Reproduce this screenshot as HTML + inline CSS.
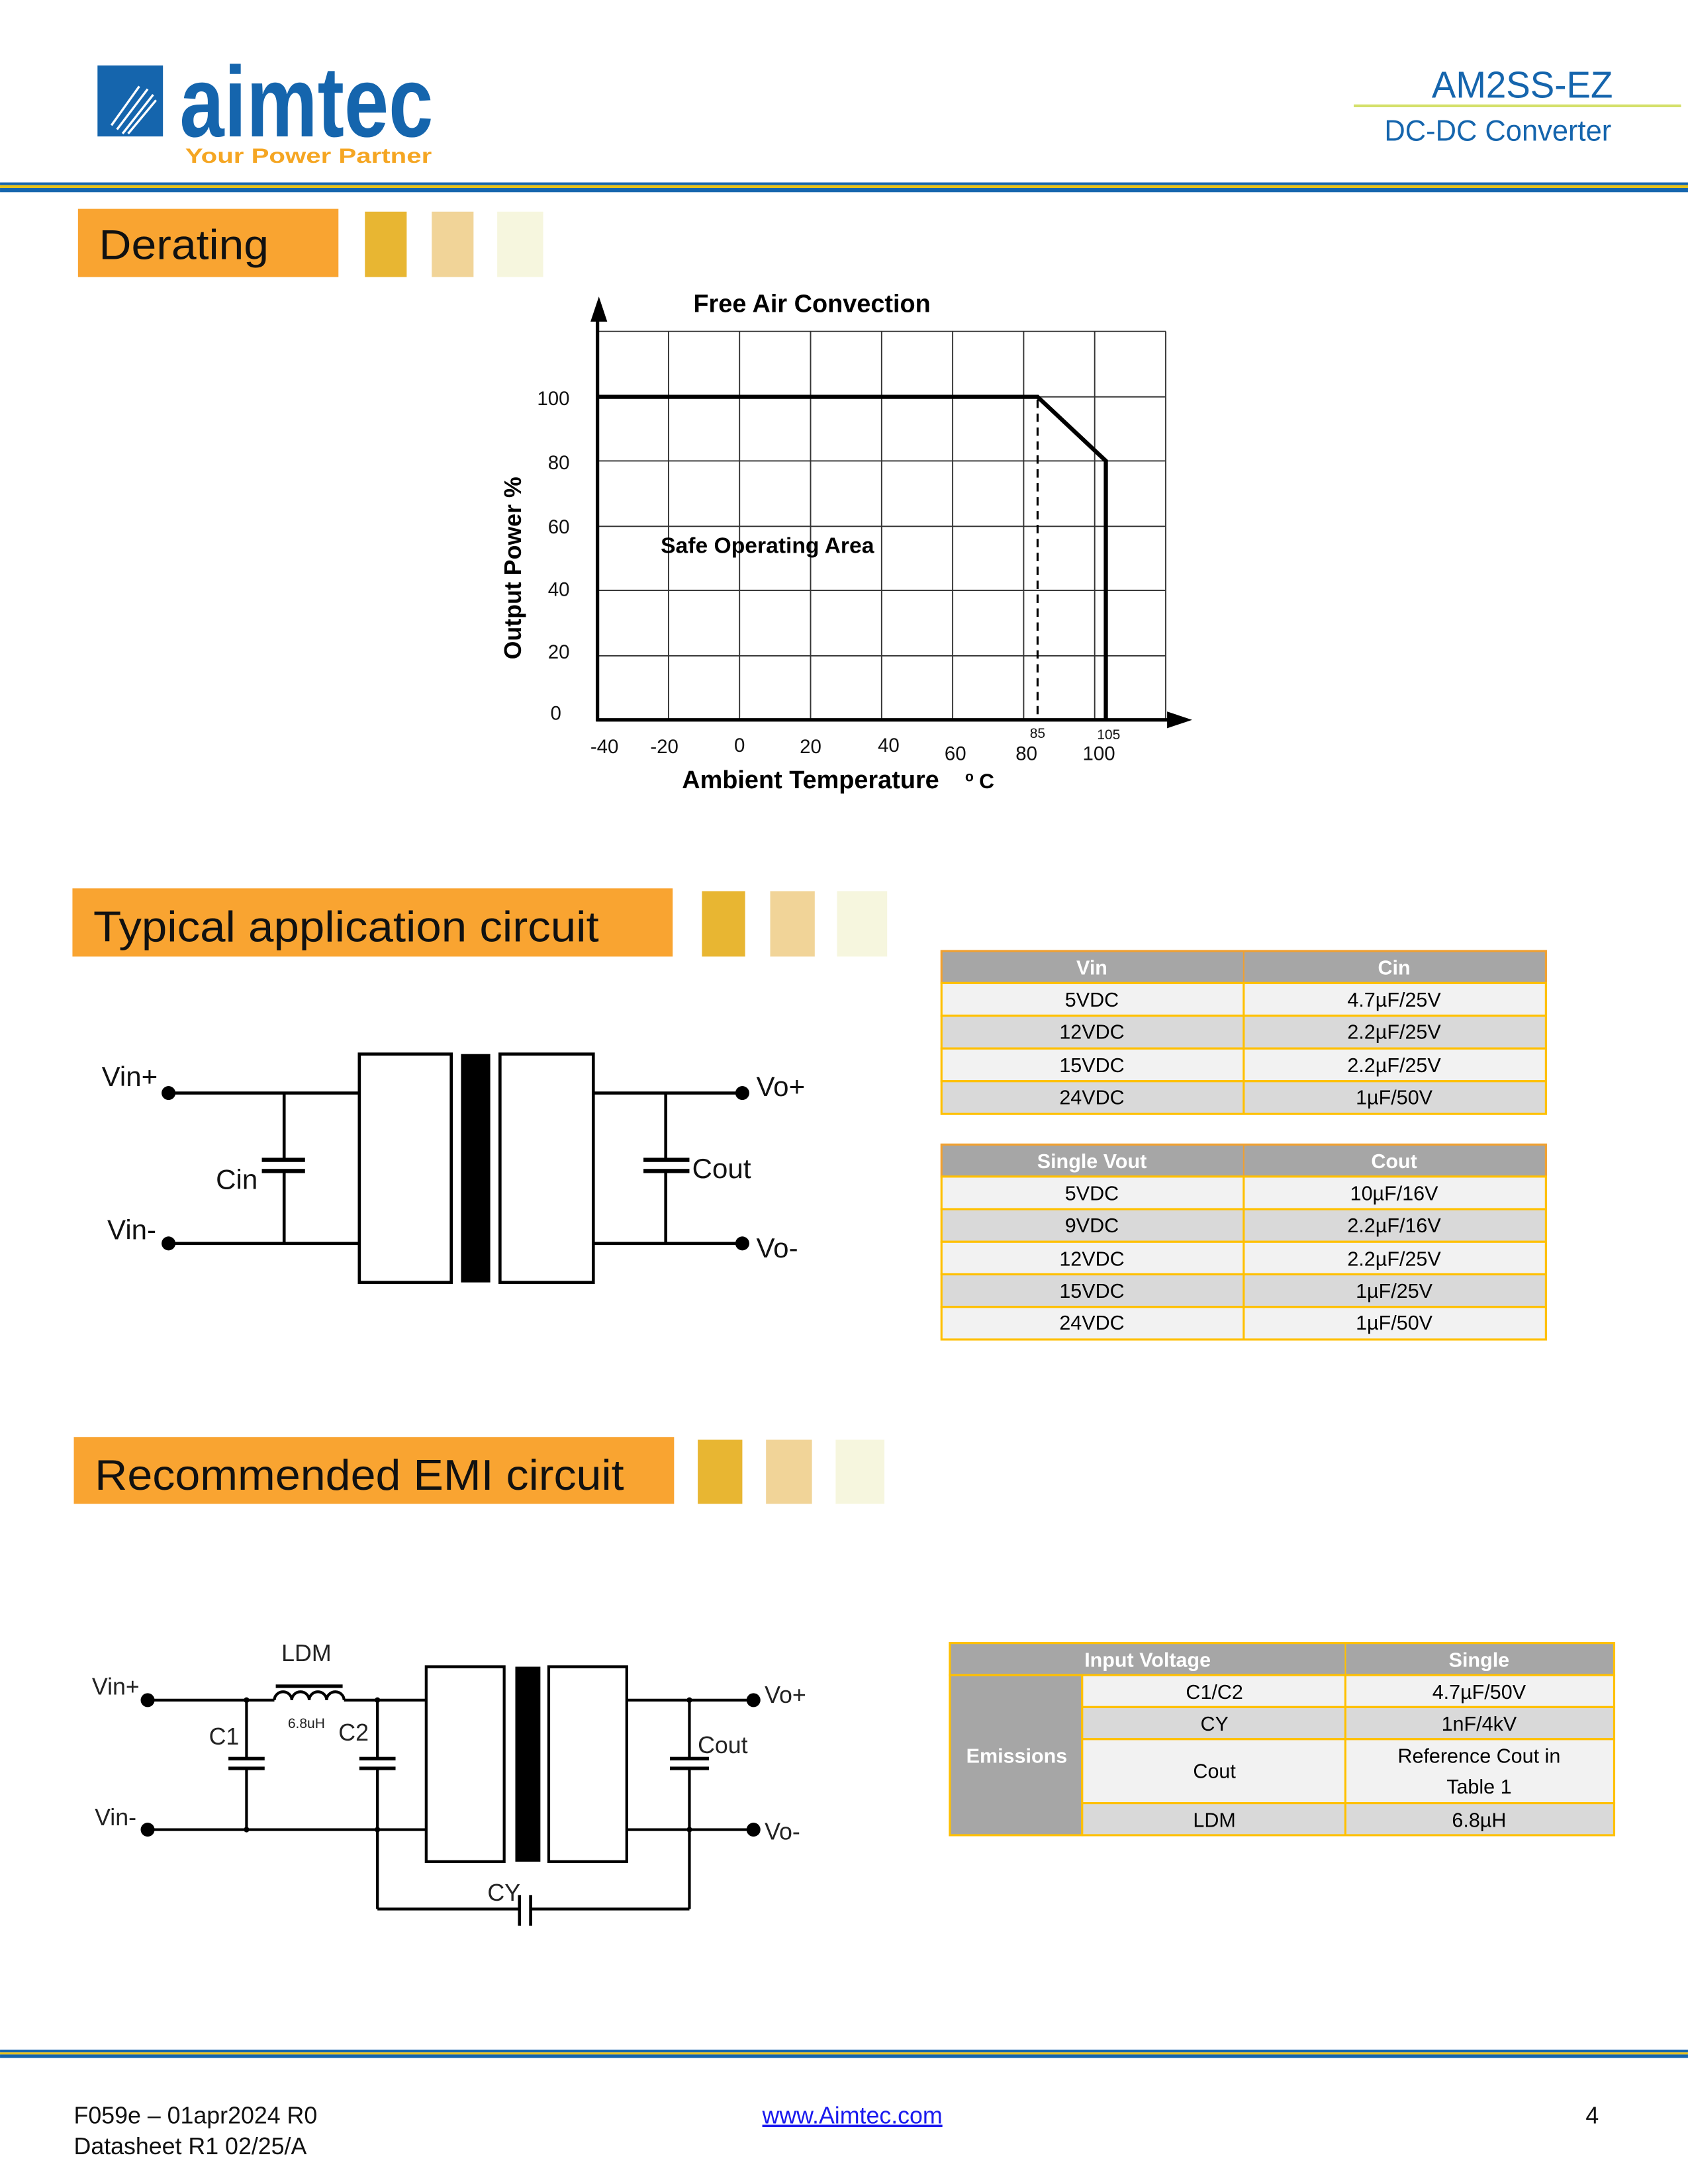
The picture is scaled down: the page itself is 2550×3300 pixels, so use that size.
<!DOCTYPE html>
<html><head><meta charset="utf-8"><style>
html,body{margin:0;padding:0;background:#fff}
svg{display:block}
text{font-family:"Liberation Sans",sans-serif}
</style></head><body>
<svg width="2550" height="3300" viewBox="0 0 1212 1568.5" xmlns="http://www.w3.org/2000/svg">
<rect width="1212" height="1568.5" fill="#fff"/>
<rect x="70" y="47" width="47" height="51" fill="#1565ad"/>
<g stroke="#fff" stroke-width="1.6">
<line x1="80" y1="90" x2="100" y2="62"/><line x1="84" y1="93" x2="106" y2="64"/><line x1="88" y1="96" x2="110" y2="68"/><line x1="92" y1="96" x2="112" y2="72"/>
</g>
<text x="129" y="98" font-size="72" font-weight="bold" fill="#1565ad" textLength="182" lengthAdjust="spacingAndGlyphs">aimtec</text>
<text x="133" y="117" font-size="15" font-weight="bold" fill="#f5a623" textLength="177" lengthAdjust="spacingAndGlyphs">Your Power Partner</text>
<text x="1158" y="70" font-size="27" fill="#1565ad" text-anchor="end" textLength="130" lengthAdjust="spacingAndGlyphs">AM2SS-EZ</text>
<rect x="972" y="75" width="235" height="2" fill="#d4e06a"/>
<text x="1157" y="101" font-size="21" fill="#1565ad" text-anchor="end" textLength="163" lengthAdjust="spacingAndGlyphs">DC-DC Converter</text>
<rect x="0" y="131" width="1212" height="2" fill="#1565ad"/>
<rect x="0" y="133" width="1212" height="2" fill="#e8c21a"/>
<rect x="0" y="135" width="1212" height="3" fill="#1565ad"/>
<g>
<rect x="56" y="150" width="187" height="49" fill="#f9a431"/>
<text x="71" y="186" font-size="30" fill="#111" textLength="122" lengthAdjust="spacingAndGlyphs">Derating</text>
<rect x="262" y="152" width="30" height="47" fill="#e8b632"/>
<rect x="310" y="152" width="30" height="47" fill="#f1d498"/>
<rect x="357" y="152" width="33" height="47" fill="#f6f6de"/>
<rect x="52" y="638" width="431" height="49" fill="#f9a431"/>
<text x="67" y="676" font-size="31" fill="#111" textLength="363" lengthAdjust="spacingAndGlyphs">Typical application circuit</text>
<rect x="504" y="640" width="31" height="47" fill="#e8b632"/>
<rect x="553" y="640" width="32" height="47" fill="#f1d498"/>
<rect x="601" y="640" width="36" height="47" fill="#f6f6de"/>
<rect x="53" y="1032" width="431" height="48" fill="#f9a431"/>
<text x="68" y="1070" font-size="31" fill="#111" textLength="380" lengthAdjust="spacingAndGlyphs">Recommended EMI circuit</text>
<rect x="501" y="1034" width="32" height="46" fill="#e8b632"/>
<rect x="550" y="1034" width="33" height="46" fill="#f1d498"/>
<rect x="600" y="1034" width="35" height="46" fill="#f6f6de"/>
</g>
<g stroke="#333" stroke-width="0.9" fill="none">
<line x1="429" y1="238" x2="837" y2="238"/><line x1="429" y1="285" x2="837" y2="285"/><line x1="429" y1="331" x2="837" y2="331"/><line x1="429" y1="378" x2="837" y2="378"/><line x1="429" y1="424" x2="837" y2="424"/><line x1="429" y1="471" x2="837" y2="471"/>
<line x1="480" y1="238" x2="480" y2="517"/><line x1="531" y1="238" x2="531" y2="517"/><line x1="582" y1="238" x2="582" y2="517"/><line x1="633" y1="238" x2="633" y2="517"/><line x1="684" y1="238" x2="684" y2="517"/><line x1="735" y1="238" x2="735" y2="517"/><line x1="786" y1="238" x2="786" y2="517"/><line x1="837" y1="238" x2="837" y2="517"/>
</g>
<g stroke="#000" fill="none">
<line x1="429" y1="225" x2="429" y2="518" stroke-width="2.5"/>
<line x1="428" y1="517" x2="842" y2="517" stroke-width="2.5"/>
<polyline points="429,285 745,285 794,331 794,517" stroke-width="3"/>
<line x1="745" y1="287" x2="745" y2="517" stroke-width="1.5" stroke-dasharray="6,4"/>
</g>
<polygon points="430,213 424,231 436,231" fill="#000"/>
<polygon points="856,517 838,511 838,523" fill="#000"/>
<g font-size="14" fill="#111" text-anchor="end">
<text x="409" y="291">100</text><text x="409" y="337">80</text><text x="409" y="383">60</text><text x="409" y="428">40</text><text x="409" y="473">20</text><text x="403" y="517">0</text>
</g>
<g font-size="14" fill="#111" text-anchor="middle">
<text x="434" y="541">-40</text><text x="477" y="541">-20</text><text x="531" y="540">0</text><text x="582" y="541">20</text><text x="638" y="540">40</text><text x="686" y="546">60</text><text x="737" y="546">80</text><text x="789" y="546">100</text>
<text x="745" y="530" font-size="10">85</text><text x="796" y="531" font-size="10">105</text>
</g>
<text x="583" y="224" font-size="18" font-weight="bold" text-anchor="middle">Free Air Convection</text>
<text x="551" y="397" font-size="16" font-weight="bold" text-anchor="middle">Safe Operating Area</text>
<text transform="translate(374,408) rotate(-90)" font-size="17" font-weight="bold" text-anchor="middle">Output Power %</text>
<text x="582" y="566" font-size="18" font-weight="bold" text-anchor="middle">Ambient Temperature</text>
<text x="693" y="561" font-size="10" font-weight="bold">o</text><text x="703" y="566" font-size="15" font-weight="bold">C</text>
<g stroke="#000" stroke-width="2.2" fill="none">
<line x1="121" y1="785" x2="258" y2="785"/><line x1="121" y1="893" x2="258" y2="893"/>
<line x1="204" y1="785" x2="204" y2="833"/><line x1="204" y1="841" x2="204" y2="893"/>
<line x1="188" y1="833" x2="219" y2="833" stroke-width="3"/><line x1="188" y1="841" x2="219" y2="841" stroke-width="3"/>
<rect x="258" y="757" width="66" height="164"/><rect x="359" y="757" width="67" height="164"/>
<line x1="426" y1="785" x2="533" y2="785"/><line x1="426" y1="893" x2="533" y2="893"/>
<line x1="478" y1="785" x2="478" y2="833"/><line x1="478" y1="841" x2="478" y2="893"/>
<line x1="462" y1="833" x2="495" y2="833" stroke-width="3"/><line x1="462" y1="841" x2="495" y2="841" stroke-width="3"/>
</g>
<rect x="331" y="757" width="21" height="164" fill="#000"/>
<g fill="#000"><circle cx="121" cy="785" r="5"/><circle cx="121" cy="893" r="5"/><circle cx="533" cy="785" r="5"/><circle cx="533" cy="893" r="5"/></g>
<g font-size="20" fill="#111">
<text x="73" y="780">Vin+</text><text x="155" y="854">Cin</text><text x="77" y="890">Vin-</text><text x="543" y="787">Vo+</text><text x="497" y="846">Cout</text><text x="543" y="903">Vo-</text>
</g>
<g font-size="14.5" text-anchor="middle">
<rect x="676" y="683" width="434" height="23" fill="#a6a6a6" stroke="#f0a030" stroke-width="1.5"/>
<line x1="893" y1="683" x2="893" y2="706" stroke="#f0a030"/>
<text x="784" y="700" fill="#fff" font-weight="bold">Vin</text><text x="1001" y="700" fill="#fff" font-weight="bold">Cin</text>
<g stroke="#ffc000" stroke-width="1.5">
<rect x="676" y="706" width="434" height="23.5" fill="#f2f2f2"/><rect x="676" y="729.5" width="434" height="23.5" fill="#d9d9d9"/><rect x="676" y="753" width="434" height="23.5" fill="#f2f2f2"/><rect x="676" y="776.5" width="434" height="23.5" fill="#d9d9d9"/>
<line x1="893" y1="706" x2="893" y2="800"/>
</g>
<text x="784" y="723">5VDC</text><text x="1001" y="723">4.7µF/25V</text>
<text x="784" y="746">12VDC</text><text x="1001" y="746">2.2µF/25V</text>
<text x="784" y="770">15VDC</text><text x="1001" y="770">2.2µF/25V</text>
<text x="784" y="793">24VDC</text><text x="1001" y="793">1µF/50V</text>
<rect x="676" y="822" width="434" height="23" fill="#a6a6a6" stroke="#f0a030" stroke-width="1.5"/>
<line x1="893" y1="822" x2="893" y2="845" stroke="#f0a030"/>
<text x="784" y="839" fill="#fff" font-weight="bold">Single Vout</text><text x="1001" y="839" fill="#fff" font-weight="bold">Cout</text>
<g stroke="#ffc000" stroke-width="1.5">
<rect x="676" y="845" width="434" height="23.4" fill="#f2f2f2"/><rect x="676" y="868.4" width="434" height="23.4" fill="#d9d9d9"/><rect x="676" y="891.8" width="434" height="23.4" fill="#f2f2f2"/><rect x="676" y="915.2" width="434" height="23.4" fill="#d9d9d9"/><rect x="676" y="938.6" width="434" height="23.4" fill="#f2f2f2"/>
<line x1="893" y1="845" x2="893" y2="962"/>
</g>
<text x="784" y="862">5VDC</text><text x="1001" y="862">10µF/16V</text>
<text x="784" y="885">9VDC</text><text x="1001" y="885">2.2µF/16V</text>
<text x="784" y="909">12VDC</text><text x="1001" y="909">2.2µF/25V</text>
<text x="784" y="932">15VDC</text><text x="1001" y="932">1µF/25V</text>
<text x="784" y="955">24VDC</text><text x="1001" y="955">1µF/50V</text>
<rect x="682" y="1180" width="477" height="23" fill="#a6a6a6" stroke="#ffc000" stroke-width="1.5"/>
<line x1="966" y1="1180" x2="966" y2="1203" stroke="#ffc000"/>
<text x="824" y="1197" fill="#fff" font-weight="bold">Input Voltage</text><text x="1062" y="1197" fill="#fff" font-weight="bold">Single</text>
<rect x="682" y="1203" width="95" height="115" fill="#a6a6a6" stroke="#ffc000" stroke-width="1.5"/>
<text x="730" y="1266" fill="#fff" font-weight="bold">Emissions</text>
<g stroke="#ffc000" stroke-width="1.5">
<rect x="777" y="1203" width="382" height="23" fill="#f2f2f2"/><rect x="777" y="1226" width="382" height="23" fill="#d9d9d9"/><rect x="777" y="1249" width="382" height="46" fill="#f2f2f2"/><rect x="777" y="1295" width="382" height="23" fill="#d9d9d9"/>
<line x1="966" y1="1203" x2="966" y2="1318"/>
</g>
<text x="872" y="1220">C1/C2</text><text x="1062" y="1220">4.7µF/50V</text>
<text x="872" y="1243">CY</text><text x="1062" y="1243">1nF/4kV</text>
<text x="872" y="1277">Cout</text><text x="1062" y="1266">Reference Cout in</text><text x="1062" y="1288">Table 1</text>
<text x="872" y="1312">LDM</text><text x="1062" y="1312">6.8µH</text>
</g>
<g stroke="#000" stroke-width="2" fill="none">
<line x1="106" y1="1221" x2="197" y2="1221"/><line x1="247" y1="1221" x2="306" y2="1221"/>
<path d="M197,1221 a6.25,6 0 0 1 12.5,0 a6.25,6 0 0 1 12.5,0 a6.25,6 0 0 1 12.5,0 a6.25,6 0 0 1 12.5,0"/>
<line x1="198" y1="1211" x2="246" y2="1211" stroke-width="2.5"/>
<line x1="106" y1="1314" x2="306" y2="1314"/>
<line x1="177" y1="1221" x2="177" y2="1263"/><line x1="177" y1="1270" x2="177" y2="1314"/>
<line x1="164" y1="1263" x2="190" y2="1263" stroke-width="2.5"/><line x1="164" y1="1270" x2="190" y2="1270" stroke-width="2.5"/>
<line x1="271" y1="1221" x2="271" y2="1263"/><line x1="271" y1="1270" x2="271" y2="1371"/>
<line x1="258" y1="1263" x2="284" y2="1263" stroke-width="2.5"/><line x1="258" y1="1270" x2="284" y2="1270" stroke-width="2.5"/>
<rect x="306" y="1197" width="56" height="140"/><rect x="394" y="1197" width="56" height="140"/>
<line x1="450" y1="1221" x2="541" y2="1221"/><line x1="450" y1="1314" x2="541" y2="1314"/>
<line x1="495" y1="1221" x2="495" y2="1263"/><line x1="495" y1="1270" x2="495" y2="1371"/>
<line x1="481" y1="1263" x2="509" y2="1263" stroke-width="2.5"/><line x1="481" y1="1270" x2="509" y2="1270" stroke-width="2.5"/>
<line x1="271" y1="1371" x2="373" y2="1371"/><line x1="381" y1="1371" x2="495" y2="1371"/>
<line x1="373" y1="1361" x2="373" y2="1383" stroke-width="2.2"/><line x1="381" y1="1361" x2="381" y2="1383" stroke-width="2.2"/>
</g>
<rect x="370" y="1197" width="18" height="140" fill="#000"/>
<g fill="#000"><circle cx="106" cy="1221" r="5"/><circle cx="106" cy="1314" r="5"/><circle cx="541" cy="1221" r="5"/><circle cx="541" cy="1314" r="5"/>
<circle cx="177" cy="1221" r="2"/><circle cx="271" cy="1221" r="2"/><circle cx="177" cy="1314" r="2"/><circle cx="271" cy="1314" r="2"/><circle cx="495" cy="1221" r="2"/><circle cx="495" cy="1314" r="2"/></g>
<g font-size="17" fill="#222">
<text x="220" y="1193" text-anchor="middle">LDM</text>
<text x="220" y="1241" text-anchor="middle" font-size="10">6.8uH</text>
<text x="150" y="1253">C1</text><text x="243" y="1250">C2</text><text x="501" y="1259">Cout</text>
<text x="66" y="1217">Vin+</text><text x="68" y="1311">Vin-</text><text x="549" y="1223">Vo+</text><text x="549" y="1321">Vo-</text>
<text x="350" y="1365">CY</text>
</g>
<rect x="0" y="1472" width="1212" height="2" fill="#1565ad"/>
<rect x="0" y="1474" width="1212" height="1.5" fill="#e8c21a"/>
<rect x="0" y="1475.5" width="1212" height="2.5" fill="#1565ad"/>
<g font-size="17" fill="#111">
<text x="53" y="1525">F059e – 01apr2024 R0</text>
<text x="53" y="1547">Datasheet R1 02/25/A</text>
<text x="612" y="1525" text-anchor="middle" fill="#1a1aee" text-decoration="underline">www.Aimtec.com</text>
<text x="1148" y="1525" text-anchor="end">4</text>
</g>
</svg>
</body></html>
